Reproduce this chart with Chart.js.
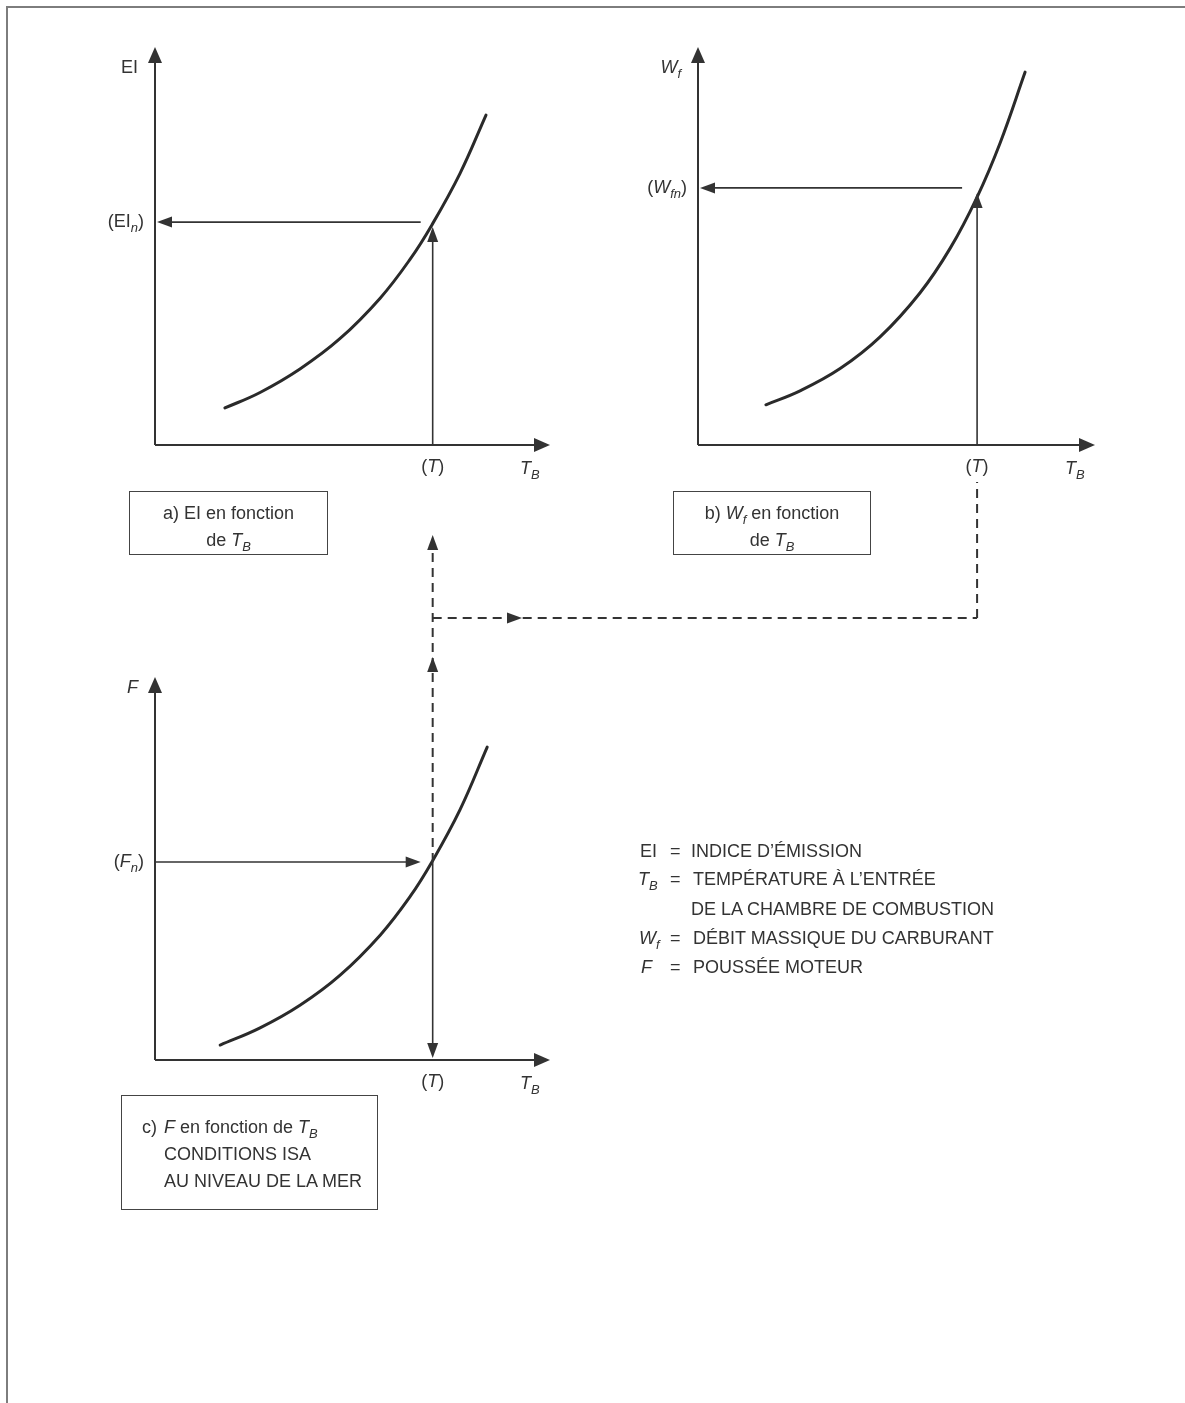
<!DOCTYPE html>
<html>
<head>
<meta charset="utf-8">
<script src="https://cdn.jsdelivr.net/npm/chart.js@4.4.0/dist/chart.umd.min.js"></script>
<style>
  html, body { margin: 0; padding: 0; background: #fff; }
  body { width: 1185px; height: 1403px; position: relative; overflow: hidden;
         font-family: "Liberation Sans", Arial, sans-serif; color: #333; }
  .frame { position: absolute; left: 6px; top: 6px; width: 1300px; height: 1500px;
           border-top: 2px solid #7d7d7d; border-left: 2px solid #7d7d7d; }
  canvas.layer { position: absolute; left: 0; top: 0; }
  .box { position: absolute; border: 1.5px solid #444; box-sizing: border-box;
         font-size: 18px; line-height: 27px; }
  .centre { text-align: center; padding-top: 8px; }
  sub { font-size: 13px; vertical-align: -5px; line-height: 0; }
  .legend { position: absolute; left: 0; top: 0; font-size: 18px; }
  .legend span { position: absolute; white-space: nowrap; line-height: 22px; }
</style>
</head>
<body>
<div class="frame"></div>
<canvas id="panelA" class="layer" width="1185" height="1403"></canvas>
<canvas id="panelB" class="layer" width="1185" height="1403"></canvas>
<canvas id="panelC" class="layer" width="1185" height="1403"></canvas>

<div class="box centre" style="left:129px; top:491px; width:199px; height:64px;">
  a) EI en fonction<br>de <i>T</i><sub><i>B</i></sub>
</div>
<div class="box centre" style="left:673px; top:491px; width:198px; height:64px;">
  b) <i>W</i><sub><i>f</i></sub> en fonction<br>de <i>T</i><sub><i>B</i></sub>
</div>
<div class="box" style="left:121px; top:1095px; width:257px; height:115px; padding:18px 0 0 42px;">
  <span style="display:inline-block; width:22px; margin-left:-22px;">c)</span><i>F</i> en fonction de <i>T</i><sub><i>B</i></sub><br>
  CONDITIONS ISA<br>AU NIVEAU DE LA MER
</div>

<div class="legend">
  <span style="left:640px; top:840px;">EI</span>
  <span style="left:670px; top:840px;">=</span>
  <span style="left:691px; top:840px;">INDICE D’ÉMISSION</span>
  <span style="left:638px; top:868px;"><i>T</i><sub><i>B</i></sub></span>
  <span style="left:670px; top:868px;">=</span>
  <span style="left:693px; top:868px;">TEMPÉRATURE À L’ENTRÉE</span>
  <span style="left:691px; top:898px;">DE LA CHAMBRE DE COMBUSTION</span>
  <span style="left:639px; top:927px;"><i>W</i><sub><i>f</i></sub></span>
  <span style="left:670px; top:927px;">=</span>
  <span style="left:693px; top:927px;">DÉBIT MASSIQUE DU CARBURANT</span>
  <span style="left:641px; top:956px;"><i>F</i></span>
  <span style="left:670px; top:956px;">=</span>
  <span style="left:693px; top:956px;">POUSSÉE MOTEUR</span>
</div>

<script>
// Panel a) EI against T_B
const eiTb     = [17.7, 26.6, 36.7, 46.8, 57.0, 64.6, 70.1, 77.2, 83.8];
const eiValues = [9.3, 13.2, 19.1, 26.7, 36.9, 46.7, 55.3, 68.2, 82.9];
// Panel b) Wf against T_B
const wfTb     = [17.1, 25.7, 35.8, 45.8, 55.9, 63.5, 70.3, 76.1, 82.4];
const wfValues = [10.1, 13.6, 19.2, 27.1, 38.2, 49.4, 62.3, 75.9, 93.7];
// Panel c) F against T_B
const fTb      = [16.5, 26.6, 36.7, 46.8, 57.0, 64.6, 70.1, 77.2, 84.1];
const fValues  = [3.9, 8.4, 14.3, 22.1, 32.6, 42.7, 51.7, 65.3, 81.7];

// operating point T and the values read at it
const tMark = 70.3;
const eiN = 56.0;
const wfN = 64.6;
const fN  = 51.7;

const ink = '#333';
const W = 1185, H = 1403;

function toPoints(xs, ys) {
  return xs.map((x, i) => ({ x: x, y: ys[i] }));
}

function line(ctx, x1, y1, x2, y2) {
  ctx.beginPath();
  ctx.moveTo(x1, y1);
  ctx.lineTo(x2, y2);
  ctx.stroke();
}

// filled arrow head, tip at (x, y) pointing along (dx, dy)
function arrow(ctx, x, y, dx, dy, len, hw) {
  const bx = x - dx * len, by = y - dy * len;
  ctx.beginPath();
  ctx.moveTo(x, y);
  ctx.lineTo(bx - dy * hw, by + dx * hw);
  ctx.lineTo(bx + dy * hw, by - dx * hw);
  ctx.closePath();
  ctx.fill();
}

// text made of parts: {t, i (italic), sub}
function richText(ctx, parts, x, y, align) {
  const fontOf = p => (p.i ? 'italic ' : '') + (p.sub ? '13px' : '18px') + ' "Liberation Sans", Arial, sans-serif';
  let total = 0;
  parts.forEach(p => { ctx.font = fontOf(p); total += ctx.measureText(p.t).width; });
  let cx = align === 'right' ? x - total : align === 'center' ? x - total / 2 : x;
  ctx.textBaseline = 'middle';
  ctx.textAlign = 'left';
  parts.forEach(p => {
    ctx.font = fontOf(p);
    ctx.fillText(p.t, cx, y + (p.sub ? 6 : 0));
    cx += ctx.measureText(p.t).width;
  });
}

const diagramPlugin = {
  id: 'diagram',
  afterDatasetsDraw(chart, args, opts) {
    const ctx = chart.ctx;
    const xs = chart.scales.x, ys = chart.scales.y;
    const x0 = xs.getPixelForValue(0), y0 = ys.getPixelForValue(0);
    const xEnd = xs.getPixelForValue(xs.max), yEnd = ys.getPixelForValue(ys.max);
    const tx = xs.getPixelForValue(tMark), ny = ys.getPixelForValue(opts.level);
    ctx.save();
    ctx.strokeStyle = ink;
    ctx.fillStyle = ink;

    // axes
    ctx.lineWidth = 2;
    line(ctx, x0, y0, x0, yEnd + 10);
    arrow(ctx, x0, yEnd, 0, -1, 16, 7);
    line(ctx, x0, y0, xEnd - 10, y0);
    arrow(ctx, xEnd, y0, 1, 0, 16, 7);

    // projection lines
    ctx.lineWidth = 1.6;
    if (opts.readOut) {
      line(ctx, tx, y0, tx, ny + 12);
      arrow(ctx, tx, ny + 5, 0, -1, 15, 5.5);
      line(ctx, tx - opts.gap, ny, x0 + 10, ny);
      arrow(ctx, x0 + 2, ny, -1, 0, 15, 5.5);
    } else {
      line(ctx, x0, ny, tx - 20, ny);
      arrow(ctx, tx - 12, ny, 1, 0, 15, 5.5);
      line(ctx, tx, ny, tx, y0 - 8);
      arrow(ctx, tx, y0 - 2, 0, 1, 15, 5.5);
    }

    // labels
    richText(ctx, opts.yName, x0 - 17, yEnd + opts.nameDy, 'right');
    richText(ctx, opts.levelName, x0 - 11, ny, 'right');
    richText(ctx, [{ t: '(' }, { t: 'T', i: 1 }, { t: ')' }], tx, y0 + 22, 'center');
    richText(ctx, [{ t: 'T', i: 1 }, { t: 'B', i: 1, sub: 1 }], xEnd - 30, y0 + 24, 'left');

    // dashed links from panel c up to panels a and b
    if (opts.linkTo) {
      const bx = opts.linkTo.scales.x.getPixelForValue(tMark);
      const topY = 535, branchY = 618, bEndY = 482;
      ctx.lineWidth = 2;
      ctx.setLineDash([9, 6]);
      line(ctx, tx, ny, tx, topY + 6);
      line(ctx, tx, branchY, bx, branchY);
      line(ctx, bx, branchY, bx, bEndY);
      ctx.setLineDash([]);
      arrow(ctx, tx, topY, 0, -1, 15, 5.5);
      arrow(ctx, tx, 657, 0, -1, 15, 5.5);
      arrow(ctx, 522, branchY, 1, 0, 15, 5.5);
    }
    ctx.restore();
  }
};

function makePanel(id, area, xs, ys, opts) {
  return new Chart(document.getElementById(id), {
    type: 'line',
    data: {
      datasets: [{
        data: toPoints(xs, ys),
        borderColor: '#2a2a2a',
        borderWidth: 3,
        borderCapStyle: 'round',
        pointRadius: 0,
        tension: 0.4,
        fill: false
      }]
    },
    options: {
      responsive: false,
      animation: false,
      events: [],
      layout: {
        padding: { left: area.left, top: area.top, right: W - area.right, bottom: H - area.bottom }
      },
      scales: {
        x: { type: 'linear', min: 0, max: 100, display: false },
        y: { type: 'linear', min: 0, max: 100, display: false }
      },
      plugins: {
        legend: { display: false },
        tooltip: { enabled: false },
        diagram: opts
      }
    },
    plugins: [diagramPlugin]
  });
}

const chartA = makePanel('panelA', { left: 155, top: 47, right: 550, bottom: 445 }, eiTb, eiValues, {
  level: eiN, readOut: true, gap: 12, nameDy: 21,
  yName: [{ t: 'EI' }],
  levelName: [{ t: '(EI' }, { t: 'n', i: 1, sub: 1 }, { t: ')' }]
});

const chartB = makePanel('panelB', { left: 698, top: 47, right: 1095, bottom: 445 }, wfTb, wfValues, {
  level: wfN, readOut: true, gap: 15, nameDy: 21,
  yName: [{ t: 'W', i: 1 }, { t: 'f', i: 1, sub: 1 }],
  levelName: [{ t: '(' }, { t: 'W', i: 1 }, { t: 'fn', i: 1, sub: 1 }, { t: ')' }]
});

const chartC = makePanel('panelC', { left: 155, top: 677, right: 550, bottom: 1060 }, fTb, fValues, {
  level: fN, readOut: false, nameDy: 11,
  yName: [{ t: 'F', i: 1 }],
  levelName: [{ t: '(' }, { t: 'F', i: 1 }, { t: 'n', i: 1, sub: 1 }, { t: ')' }],
  linkTo: chartB
});
</script>
</body>
</html>
